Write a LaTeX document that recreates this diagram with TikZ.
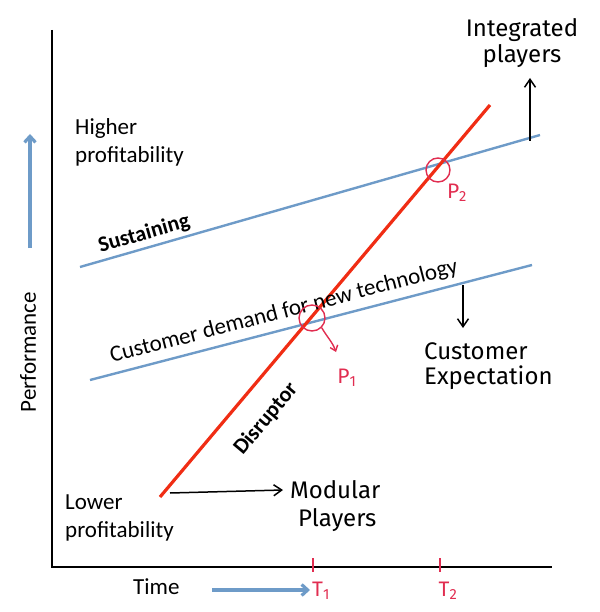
\documentclass[tikz,border=0pt]{standalone}
\usepackage{fontspec}
\setmainfont{Carlito}
\newfontfamily\hand{Fira Sans}
\usetikzlibrary{arrows.meta}
\definecolor{lineblue}{RGB}{110,155,200}
\definecolor{disred}{RGB}{240,45,20}
\definecolor{penred}{RGB}{225,45,80}
\tikzset{
  axis/.style={line width=1.6pt, black},
  blueline/.style={line width=2.4pt, lineblue},
  redline/.style={line width=3.2pt, disred},
  lbl/.style={font=\fontsize{23}{28}\selectfont, align=left, inner sep=0pt},
  boldlbl/.style={font=\bfseries\fontsize{22}{28}\selectfont, inner sep=0pt},
  handtxt/.style={font=\hand\fontsize{24}{28}\selectfont, inner sep=0pt, align=left},
  redhand/.style={font=\hand\fontsize{21}{24}\selectfont, penred, inner sep=0pt},
  penarrow/.style={line width=1.5pt, -{Straight Barb[length=8pt,width=11pt]}},
  bluearrow/.style={line width=3.2pt, lineblue, -{Straight Barb[length=6pt,width=11pt]}},
  circ/.style={circle, draw=penred, line width=1.4pt, minimum size=26pt, inner sep=0pt},
  tick/.style={line width=2pt, penred}
}
\begin{document}
\begin{tikzpicture}[x=1pt,y=-1pt]
\useasboundingbox (0,0) rectangle (599,612);
% axes
\coordinate (O) at (52,567);
\coordinate (ytop) at (52,30);
\coordinate (xend) at (552,567);
\draw[axis] (ytop) -- (O) -- (xend);
% axis labels
\node[lbl, rotate=90] (perf) at (28,352) {Performance};
\coordinate (pa1) at (30,248);
\coordinate (pa2) at (30,134);
\draw[bluearrow] (pa1) -- (pa2);
\node[lbl, anchor=west] (time) at (133,587) {Time};
\coordinate (ta1) at (212,590);
\coordinate (ta2) at (310,590);
\draw[bluearrow] (ta1) -- (ta2);
% profitability labels
\node[lbl, anchor=west] (high) at (75,142) {Higher\\profitability};
\node[lbl, anchor=west] (low) at (65,518) {Lower\\profitability};
% lines
\coordinate (s1) at (80,267);
\coordinate (s2) at (540,135);
\draw[blueline] (s1) -- (s2);
\coordinate (c1) at (90,380);
\coordinate (c2) at (532,265);
\draw[blueline] (c1) -- (c2);
\coordinate (d1) at (160,497);
\coordinate (d2) at (490,105);
\draw[redline] (d1) -- (d2);
% line labels
\node[boldlbl, rotate=16] (sus) at (144,234) {Sustaining};
\node[lbl, rotate=14.6] (cust) at (284,312) {Customer demand for new technology};
\node[boldlbl, rotate=50] (dis) at (266,419) {Disruptor};
% P1, P2
\node[circ] (p1c) at (312,318) {};
\node[redhand] (p1) at (347,378) {P\textsubscript{1}};
\draw[penred, line width=1.4pt, -{Straight Barb[length=5pt,width=8pt]}] (p1c.south east) to[out=-60,in=110] (336,352);
\node[circ, minimum size=24pt] (p2c) at (438,170) {};
\node[redhand] (p2) at (457,193) {P\textsubscript{2}};
% ticks
\coordinate (t1a) at (313,558);
\coordinate (t1b) at (313,572);
\draw[tick] (t1a) -- (t1b);
\coordinate (t2a) at (440,558);
\coordinate (t2b) at (440,572);
\draw[tick] (t2a) -- (t2b);
\node[redhand] (T1) at (321,591) {T\textsubscript{1}};
\node[redhand] (T2) at (448,591) {T\textsubscript{2}};
% handwritten annotations
\node[handtxt] (integ) at (522,30) {Integrated};
\node[handtxt] (play1) at (522,56) {players};
\coordinate (ia) at (530,141);
\coordinate (ib) at (530,78);
\draw[penarrow] (ia) -- (ib);
\coordinate (ea) at (463,285);
\coordinate (eb) at (463,328);
\draw[penarrow] (ea) -- (eb);
\node[handtxt, anchor=west] (cexp) at (424,351) {Customer};
\node[handtxt, anchor=west] (expt) at (424,378) {Expectation};
\coordinate (ma) at (170,493);
\coordinate (mb) at (283,490);
\draw[penarrow] (ma) -- (mb);
\node[handtxt, anchor=west] (mod) at (290,490) {Modular};
\node[handtxt, anchor=west] (mplay) at (298,520) {Players};
\end{tikzpicture}
\end{document}
